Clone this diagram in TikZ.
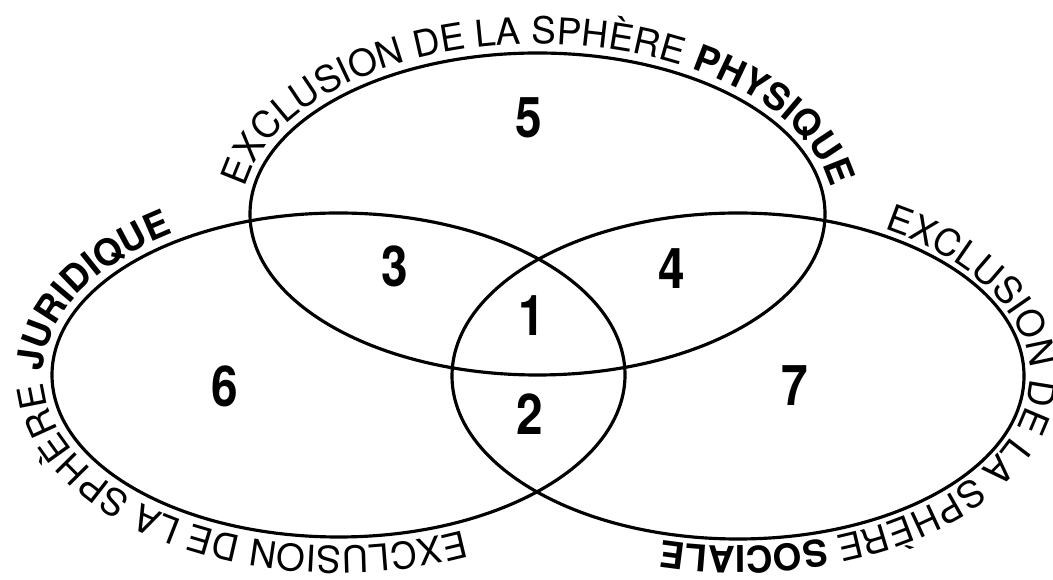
\documentclass[tikz,border=0pt]{standalone}
\usepackage{fontspec}
\setmainfont{TeX Gyre Heros}
\newfontfamily\chiffre[FakeStretch=0.85]{TeX Gyre Heros}
\usetikzlibrary{decorations.text}
\newcommand{\txtsize}{\fontsize{10.5}{12}\selectfont}

\begin{document}
\begin{tikzpicture}[x=0.1mm, y=0.1mm,
  sphere/.style={line width=0.9pt},
  zone/.style={font=\chiffre\bfseries\fontsize{16}{18}\selectfont, inner sep=0pt},
  legende/.style={decorate, decoration={text along path, text align=left, text={#1}}}]
\useasboundingbox (0,0) rectangle (1053,580);
% centres of the three spheres
\coordinate (cP) at (537.5,366);
\coordinate (cJ) at (338.5,205);
\coordinate (cS) at (738,204);
\draw[sphere] (cP) ellipse [x radius=287.5, y radius=161];
\draw[sphere] (cJ) ellipse [x radius=286.5, y radius=162];
\draw[sphere] (cS) ellipse [x radius=286, y radius=163];
% labels run clockwise, outside the line
\path[legende={|\txtsize|EXCLUSION DE LA SPHÈRE |\txtsize\bfseries|PHYSIQUE}]
  (cP) ++(171:296.5 and 170) arc[start angle=171, end angle=-30, x radius=296.5, y radius=170];
\path[legende={|\txtsize|EXCLUSION DE LA SPHÈRE |\txtsize\bfseries|JURIDIQUE}]
  (cJ) ++(-65:295.5 and 171) arc[start angle=-65, end angle=-270, x radius=295.5, y radius=171];
\path[legende={|\txtsize|EXCLUSION DE LA SPHÈRE |\txtsize\bfseries|SOCIALE}]
  (cS) ++(60:292 and 170) arc[start angle=60, end angle=-140, x radius=292, y radius=170];
% region numbers
\node[zone] (n5) at (529,462) {5};
\node[zone] (n3) at (395,314) {3};
\node[zone] (n4) at (672,311) {4};
\node[zone] (n1) at (532,264) {1};
\node[zone] (n6) at (225,194) {6};
\node[zone] (n2) at (530,166) {2};
\node[zone] (n7) at (795,194) {7};
\end{tikzpicture}
\end{document}
